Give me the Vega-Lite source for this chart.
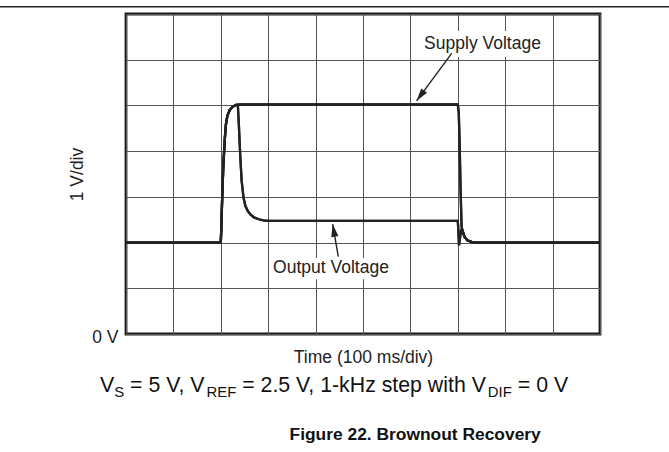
{
  "$schema": "https://vega.github.io/schema/vega-lite/v6.json",
  "width": 474,
  "height": 320,
  "autosize": {"type": "none"},
  "padding": {"left": 126, "top": 14, "right": 69, "bottom": 118},
  "background": "white",
  "config": {
    "font": "Liberation Sans",
    "view": {"stroke": "#1a1a1a", "strokeWidth": 2.8}
  },
  "datasets": {
    "traces": [
      {"trace": "supply", "t": 0, "v": 2.0},
      {"trace": "supply", "t": 2.0, "v": 2.0},
      {"trace": "supply", "t": 2.01, "v": 2.3},
      {"trace": "supply", "t": 2.03, "v": 3.0},
      {"trace": "supply", "t": 2.05, "v": 3.6},
      {"trace": "supply", "t": 2.07, "v": 4.0},
      {"trace": "supply", "t": 2.09, "v": 4.35},
      {"trace": "supply", "t": 2.11, "v": 4.6},
      {"trace": "supply", "t": 2.14, "v": 4.78},
      {"trace": "supply", "t": 2.19, "v": 4.9},
      {"trace": "supply", "t": 2.25, "v": 4.97},
      {"trace": "supply", "t": 2.32, "v": 5.01},
      {"trace": "supply", "t": 2.4, "v": 5.02},
      {"trace": "supply", "t": 7.0, "v": 5.02},
      {"trace": "supply", "t": 7.02, "v": 4.85},
      {"trace": "supply", "t": 7.04, "v": 4.1},
      {"trace": "supply", "t": 7.06, "v": 3.1},
      {"trace": "supply", "t": 7.08, "v": 2.35},
      {"trace": "supply", "t": 7.1, "v": 2.26},
      {"trace": "supply", "t": 7.14, "v": 2.13},
      {"trace": "supply", "t": 7.2, "v": 2.05},
      {"trace": "supply", "t": 7.3, "v": 2.01},
      {"trace": "supply", "t": 7.4, "v": 2.0},
      {"trace": "supply", "t": 10, "v": 2.0},
      {"trace": "output", "t": 0, "v": 2.0},
      {"trace": "output", "t": 2.0, "v": 2.0},
      {"trace": "output", "t": 2.01, "v": 2.3},
      {"trace": "output", "t": 2.03, "v": 3.0},
      {"trace": "output", "t": 2.05, "v": 3.6},
      {"trace": "output", "t": 2.07, "v": 4.0},
      {"trace": "output", "t": 2.09, "v": 4.35},
      {"trace": "output", "t": 2.11, "v": 4.6},
      {"trace": "output", "t": 2.14, "v": 4.78},
      {"trace": "output", "t": 2.19, "v": 4.9},
      {"trace": "output", "t": 2.25, "v": 4.97},
      {"trace": "output", "t": 2.32, "v": 5.01},
      {"trace": "output", "t": 2.36, "v": 5.0},
      {"trace": "output", "t": 2.38, "v": 4.6},
      {"trace": "output", "t": 2.41, "v": 3.9},
      {"trace": "output", "t": 2.44, "v": 3.35},
      {"trace": "output", "t": 2.48, "v": 2.98},
      {"trace": "output", "t": 2.52, "v": 2.8},
      {"trace": "output", "t": 2.57, "v": 2.69},
      {"trace": "output", "t": 2.63, "v": 2.61},
      {"trace": "output", "t": 2.7, "v": 2.55},
      {"trace": "output", "t": 2.8, "v": 2.51},
      {"trace": "output", "t": 2.9, "v": 2.485},
      {"trace": "output", "t": 3.0, "v": 2.475},
      {"trace": "output", "t": 7.0, "v": 2.475},
      {"trace": "output", "t": 7.01, "v": 2.3},
      {"trace": "output", "t": 7.025, "v": 1.94},
      {"trace": "output", "t": 7.04, "v": 2.05},
      {"trace": "output", "t": 7.07, "v": 2.27},
      {"trace": "output", "t": 7.1, "v": 2.26},
      {"trace": "output", "t": 7.14, "v": 2.13},
      {"trace": "output", "t": 7.2, "v": 2.05},
      {"trace": "output", "t": 7.3, "v": 2.01},
      {"trace": "output", "t": 7.4, "v": 2.0},
      {"trace": "output", "t": 10, "v": 2.0}
    ],
    "boxes": [
      {"t1": 6.2, "t2": 8.84, "v1": 6.06, "v2": 6.63},
      {"t1": 3.04, "t2": 5.59, "v1": 1.2, "v2": 1.66}
    ],
    "labels": [
      {"label": "Supply Voltage", "t": 7.521, "v": 6.234},
      {"label": "Output Voltage", "t": 4.325, "v": 1.328}
    ],
    "arrows": [
      {"arrow": "supply", "t1": 6.871, "v1": 6.14, "t2": 6.13, "v2": 5.1},
      {"arrow": "output", "t1": 4.479, "v1": 1.691, "t2": 4.36, "v2": 2.406}
    ],
    "pageRule": [{"t1": -2.7, "t2": 11.5, "v": 7.16}],
    "captionMain": [
      {"text": "V", "t": -0.5485, "v": -1.262},
      {"text": "= 5 V, V", "t": 0.0861, "v": -1.262},
      {"text": "= 2.5 V, 1-kHz step with V", "t": 2.4515, "v": -1.262},
      {"text": "= 0 V", "t": 8.2656, "v": -1.262}
    ],
    "captionSub": [
      {"text": "S", "t": -0.2487, "v": -1.38},
      {"text": "REF", "t": 1.6975, "v": -1.38},
      {"text": "DIF", "t": 7.634, "v": -1.38}
    ],
    "figure": [{"text": "Figure 22. Brownout Recovery", "t": 6.1, "v": -2.319}]
  },
  "layer": [
    {
      "data": {"name": "traces"},
      "mark": {"type": "line", "stroke": "#222222", "strokeWidth": 2.3, "interpolate": "linear"},
      "encoding": {
        "x": {
          "field": "t", "type": "quantitative",
          "scale": {"domain": [0, 10], "nice": false, "zero": false},
          "axis": {
            "values": [0, 1, 2, 3, 4, 5, 6, 7, 8, 9, 10],
            "grid": true, "gridColor": "#555555", "gridWidth": 1, "gridOpacity": 1,
            "labels": false, "ticks": false, "domain": false,
            "title": "Time (100 ms/div)",
            "titleFont": "Liberation Sans", "titleFontSize": 17.5, "titleFontWeight": "normal",
            "titleColor": "#222222", "titlePadding": 14
          }
        },
        "y": {
          "field": "v", "type": "quantitative",
          "scale": {"domain": [0, 7], "nice": false, "zero": false},
          "axis": {
            "values": [0, 1, 2, 3, 4, 5, 6, 7],
            "grid": true, "gridColor": "#555555", "gridWidth": 1, "gridOpacity": 1,
            "ticks": false, "domain": false,
            "labelExpr": "datum.value == 0 ? '0 V' : ''",
            "labelFont": "Liberation Sans", "labelFontSize": 17.5, "labelColor": "#222222",
            "labelPadding": 8, "labelBaseline": "middle", "labelOffset": 3,
            "title": "1 V/div",
            "titleFont": "Liberation Sans", "titleFontSize": 17.5, "titleFontWeight": "normal",
            "titleColor": "#222222", "titlePadding": 5
          }
        },
        "detail": {"field": "trace"}
      }
    },
    {
      "data": {"name": "boxes"},
      "mark": {"type": "rect", "fill": "white"},
      "encoding": {
        "x": {"field": "t1", "type": "quantitative"},
        "x2": {"field": "t2"},
        "y": {"field": "v1", "type": "quantitative"},
        "y2": {"field": "v2"}
      }
    },
    {
      "data": {"name": "traces"},
      "mark": {"type": "line", "stroke": "#222222", "strokeWidth": 2.3},
      "encoding": {
        "x": {"field": "t", "type": "quantitative"},
        "y": {"field": "v", "type": "quantitative"},
        "detail": {"field": "trace"}
      }
    },
    {
      "data": {"name": "labels"},
      "mark": {"type": "text", "font": "Liberation Sans", "fontSize": 17.5, "color": "#222222", "align": "center", "baseline": "alphabetic"},
      "encoding": {
        "x": {"field": "t", "type": "quantitative"},
        "y": {"field": "v", "type": "quantitative"},
        "text": {"field": "label"}
      }
    },
    {
      "data": {"name": "arrows"},
      "mark": {"type": "rule", "stroke": "#222222", "strokeWidth": 1.4},
      "encoding": {
        "x": {"field": "t1", "type": "quantitative"},
        "y": {"field": "v1", "type": "quantitative"},
        "x2": {"field": "t2"},
        "y2": {"field": "v2"}
      }
    },
    {
      "data": {"name": "arrows"},
      "transform": [{"filter": "datum.arrow == 'supply'"}],
      "mark": {"type": "point", "shape": "M0,0L-0.45,1.6L0.45,1.6Z", "filled": true, "fill": "#222222", "strokeWidth": 0, "size": 256, "angle": 216.4, "opacity": 1},
      "encoding": {
        "x": {"field": "t2", "type": "quantitative"},
        "y": {"field": "v2", "type": "quantitative"}
      }
    },
    {
      "data": {"name": "arrows"},
      "transform": [{"filter": "datum.arrow == 'output'"}],
      "mark": {"type": "point", "shape": "M0,0L-0.45,1.6L0.45,1.6Z", "filled": true, "fill": "#222222", "strokeWidth": 0, "size": 256, "angle": 350.3, "opacity": 1},
      "encoding": {
        "x": {"field": "t2", "type": "quantitative"},
        "y": {"field": "v2", "type": "quantitative"}
      }
    },
    {
      "data": {"name": "pageRule"},
      "mark": {"type": "rule", "stroke": "#222222", "strokeWidth": 1.5},
      "encoding": {
        "x": {"field": "t1", "type": "quantitative"},
        "x2": {"field": "t2"},
        "y": {"field": "v", "type": "quantitative"}
      }
    },
    {
      "data": {"name": "captionMain"},
      "mark": {"type": "text", "font": "Liberation Sans", "fontSize": 21.3, "color": "#111111", "align": "left", "baseline": "alphabetic"},
      "encoding": {
        "x": {"field": "t", "type": "quantitative"},
        "y": {"field": "v", "type": "quantitative"},
        "text": {"field": "text"}
      }
    },
    {
      "data": {"name": "captionSub"},
      "mark": {"type": "text", "font": "Liberation Sans", "fontSize": 14.9, "color": "#111111", "align": "left", "baseline": "alphabetic"},
      "encoding": {
        "x": {"field": "t", "type": "quantitative"},
        "y": {"field": "v", "type": "quantitative"},
        "text": {"field": "text"}
      }
    },
    {
      "data": {"name": "figure"},
      "mark": {"type": "text", "font": "Liberation Sans", "fontSize": 17.4, "fontWeight": "bold", "color": "#111111", "align": "center", "baseline": "alphabetic"},
      "encoding": {
        "x": {"field": "t", "type": "quantitative"},
        "y": {"field": "v", "type": "quantitative"},
        "text": {"field": "text"}
      }
    }
  ]
}
